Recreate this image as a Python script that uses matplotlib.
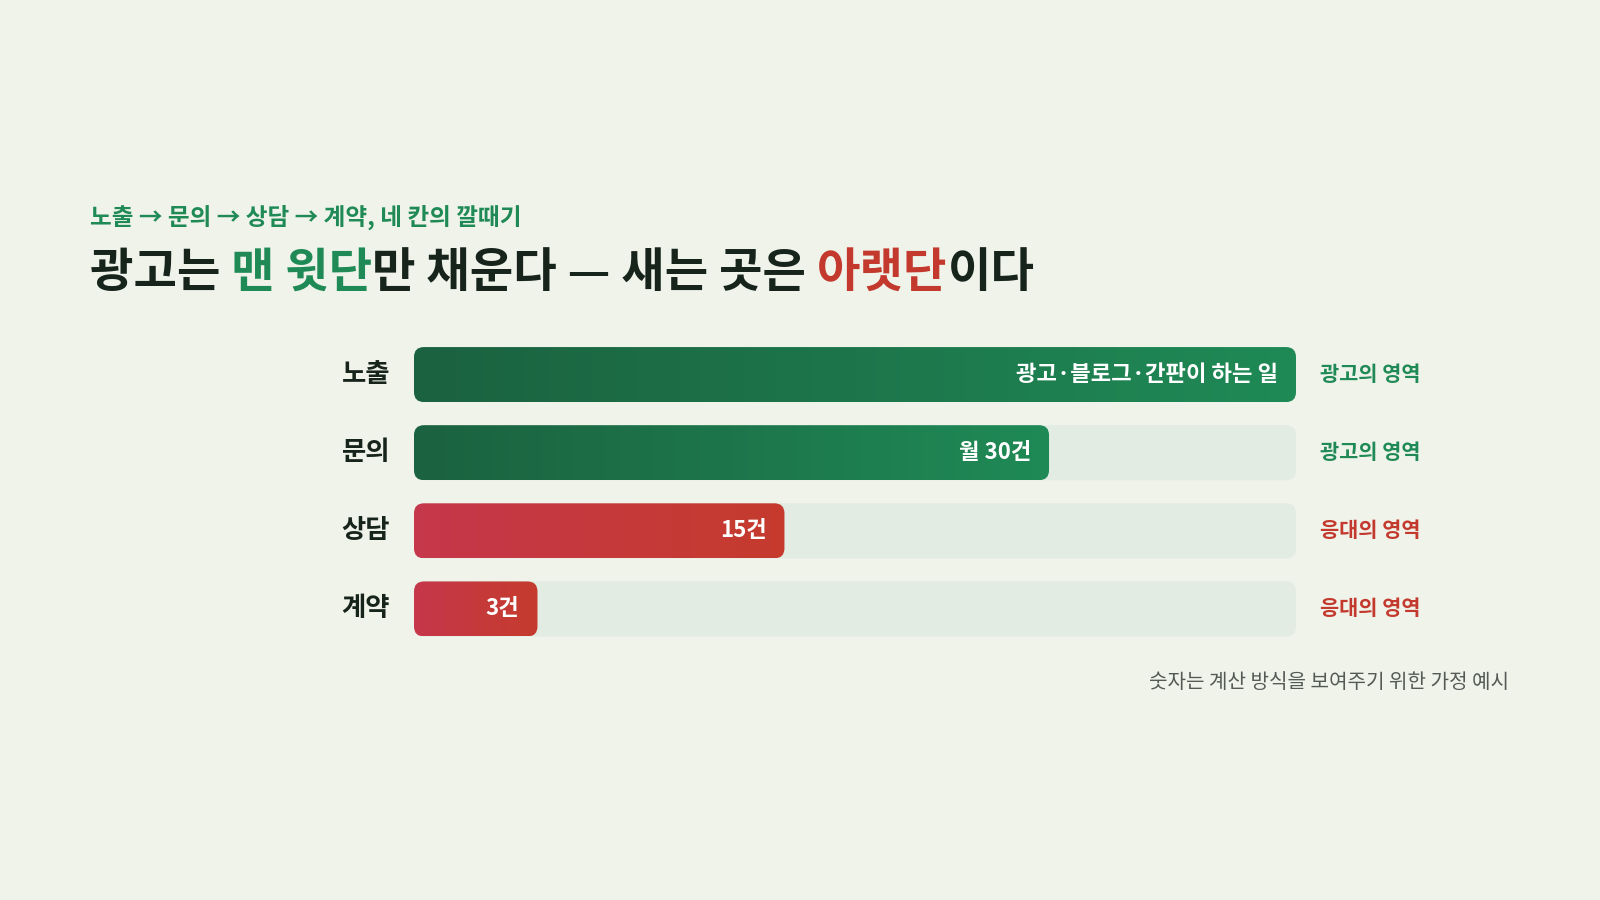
import numpy as np
import matplotlib.pyplot as plt
from matplotlib.patches import FancyBboxPatch
from matplotlib.colors import LinearSegmentedColormap
import matplotlib.transforms as mtransforms

plt.rcParams['font.family'] = ['Noto Sans CJK KR', 'DejaVu Sans']

# Data
stages = ['노출', '문의', '상담', '계약']
bar_labels = ['광고·블로그·간판이 하는 일', '월 30건', '15건', '3건']
bar_share = [100, 72, 42, 14]          # bar length, % of the full track
zone_labels = ['광고의 영역', '광고의 영역', '응대의 영역', '응대의 영역']
zone_kind = ['ad', 'ad', 'care', 'care']

title_parts = [('광고는 ', 'dark'), ('맨 윗단', 'green'), ('만 채운다 — 새는 곳은 ', 'dark'),
               ('아랫단', 'red'), ('이다', 'dark')]
subtitle = '노출 → 문의 → 상담 → 계약, 네 칸의 깔때기'
footnote = '숫자는 계산 방식을 보여주기 위한 가정 예시'

# Colours
BG = '#eff3ea'
TRACK = '#e2ece2'
DARK = '#17241c'
GREEN = '#1f8a55'
RED = '#c4392d'
text_col = {'dark': DARK, 'green': GREEN, 'red': RED}
grad = {'ad': LinearSegmentedColormap.from_list('g', ['#1b6240', '#1f8a56']),
        'care': LinearSegmentedColormap.from_list('r', ['#c5374b', '#c63b2d'])}
zone_col = {'ad': GREEN, 'care': RED}

W, H = 1600, 900
fig = plt.figure(figsize=(16, 9), dpi=100)
fig.patch.set_facecolor(BG)

# bar area
left_px, right_px, top_px, bot_px = 414, 1296, 335.5, 648
ax = fig.add_axes([left_px / W, 1 - bot_px / H, (right_px - left_px) / W, (bot_px - top_px) / H])
ax.set_facecolor(BG)
ax.axis('off')

px_x = (right_px - left_px) / 100.0      # px per x unit
px_y = (bot_px - top_px) / 4.0           # px per row
aspect = px_x / px_y
radius = 10 / px_x
h = 55 / px_y

ramp = np.linspace(0, 1, 256).reshape(1, -1)
for i, (share, kind) in enumerate(zip(bar_share, zone_kind)):
    track = FancyBboxPatch((0, i - h / 2), 100, h,
                           boxstyle=f'round,pad=0,rounding_size={radius}',
                           mutation_aspect=aspect, fc=TRACK, ec='none', zorder=1)
    ax.add_patch(track)
    bar = FancyBboxPatch((0, i - h / 2), share, h,
                         boxstyle=f'round,pad=0,rounding_size={radius}',
                         mutation_aspect=aspect, fc='none', ec='none', zorder=1)
    ax.add_patch(bar)
    im = ax.imshow(ramp, extent=(0, share, i + h / 2, i - h / 2), cmap=grad[kind],
                   aspect='auto', interpolation='bicubic', zorder=2)
    im.set_clip_path(bar)

    # value label inside the bar
    off = mtransforms.offset_copy(ax.transData, fig=fig, x=-18, y=0, units='dots')
    ax.text(share, i, bar_labels[i], transform=off, ha='right', va='center',
            color='white', fontsize=16, fontweight='bold', zorder=3)

    # stage label on the left
    off_l = mtransforms.offset_copy(ax.transData, fig=fig, x=-24, y=0, units='dots')
    ax.text(0, i, stages[i], transform=off_l, ha='right', va='center',
            color=DARK, fontsize=19, fontweight='bold')

    # zone label on the right
    off_r = mtransforms.offset_copy(ax.transData, fig=fig, x=24, y=0, units='dots')
    ax.text(100, i, zone_labels[i], transform=off_r, ha='left', va='center',
            color=zone_col[kind], fontsize=15, fontweight='bold')

ax.set_xlim(0, 100)
ax.set_ylim(3.5, -0.5)

# subtitle and title
fig.text(90 / W, 1 - 217 / H, subtitle, ha='left', va='center',
         color=GREEN, fontsize=17, fontweight='bold')

renderer = fig.canvas.get_renderer()
x = 90
for seg, col in title_parts:
    t = fig.text(x / W, 1 - 273 / H, seg, ha='left', va='center',
                 color=text_col[col], fontsize=34, fontweight='black')
    x = t.get_window_extent(renderer).x1

fig.text(1509 / W, 1 - 682 / H, footnote, ha='right', va='center',
         color='#555a55', fontsize=14.5)

fig.savefig('out.png', dpi=100, facecolor=BG)
